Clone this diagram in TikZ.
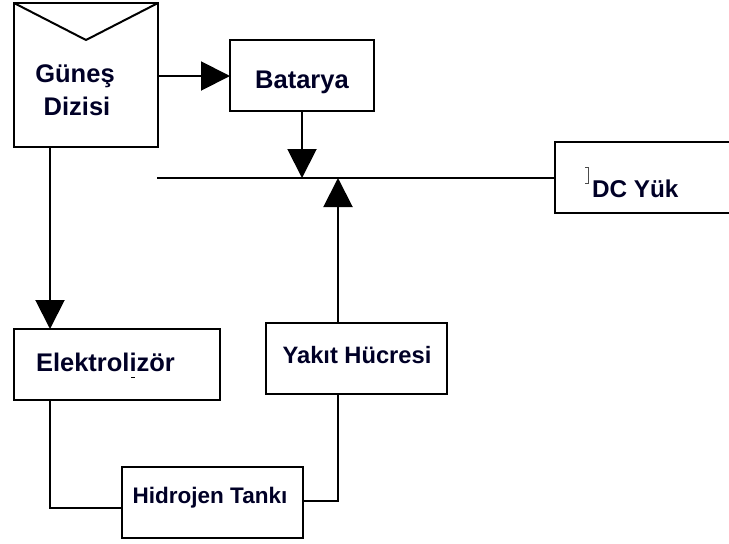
\documentclass[tikz,border=0pt]{standalone}
\usepackage{fontspec}
\setmainfont{Liberation Sans}
\usetikzlibrary{arrows.meta}

\begin{document}
\begin{tikzpicture}[x=1pt,y=-1pt,
  line width=2pt,
  blk/.style={draw=black, line width=2pt},
  lbl/.style={inner sep=0pt, anchor=base, font=\bfseries, text=black!85!blue},
  flow/.style={-{Triangle[length=29pt,width=29pt]}},
]
\useasboundingbox (0,0) rectangle (729,544);
\clip (0,0) rectangle (729,544);

% solar array with its V-shaped top
\draw[blk] (14,3) rectangle (158,147);
\draw[blk] (14,3) -- (86,40) -- (158,3);
\coordinate (gdE) at (158,76);
\coordinate (gdS) at (50,147);
\node[lbl, font=\bfseries\fontsize{25.5}{30}\selectfont] (gd1) at (75,82) {Güneş};
\node[lbl, font=\bfseries\fontsize{25.5}{30}\selectfont] (gd2) at (77,115) {Dizisi};

% battery
\draw[blk] (230,40) rectangle (374,111);
\coordinate (batW) at (230,76);
\coordinate (batS) at (302,111);
\node[lbl, font=\bfseries\fontsize{25.5}{30}\selectfont] (bat) at (302,88) {Batarya};

% DC bus and load
\coordinate (busW) at (157,178);
\coordinate (busJ) at (302,178);
\coordinate (busF) at (338,178);
\coordinate (loadW) at (555,178);
\draw[blk] (740,142) -- (555,142) -- (555,213) -- (740,213);
\node[lbl, anchor=base west, font=\bfseries\fontsize{24.3}{29}\selectfont] (load) at (591,197) {DC Yük};
\draw[line width=0.7pt, black!70] (585,167) -- (588,167) -- (588,183) -- (585,183);

% electrolyser
\draw[blk] (14,329) rectangle (220,400);
\coordinate (elN) at (50,329);
\coordinate (elS) at (50,400);
\node[lbl, anchor=base west, font=\bfseries\fontsize{25.5}{30}\selectfont] (el) at (35,371) {Elektrolizör};
\draw[line width=1pt] (131,377.5) -- (135,377.5);

% fuel cell
\draw[blk] (266,323) rectangle (447,394);
\coordinate (fcN) at (338,323);
\coordinate (fcS) at (338,394);
\node[lbl, font=\bfseries\fontsize{23.7}{28}\selectfont] (fc) at (357,363) {Yakıt Hücresi};

% hydrogen tank
\draw[blk] (122,467) rectangle (303,538);
\coordinate (htW) at (122,508);
\coordinate (htE) at (303,501);
\node[lbl, font=\bfseries\fontsize{22.5}{27}\selectfont] (ht) at (210,503) {Hidrojen Tankı};

% connections
\draw[flow] (gdE) -- (batW);
\draw[flow] (batS) -- (busJ);
\draw (busW) -- (loadW);
\draw[flow] (fcN) -- (busF);
\draw[flow] (gdS) -- (elN);
\draw (elS) |- (htW);
\draw (htE) -| (fcS);
\end{tikzpicture}
\end{document}
